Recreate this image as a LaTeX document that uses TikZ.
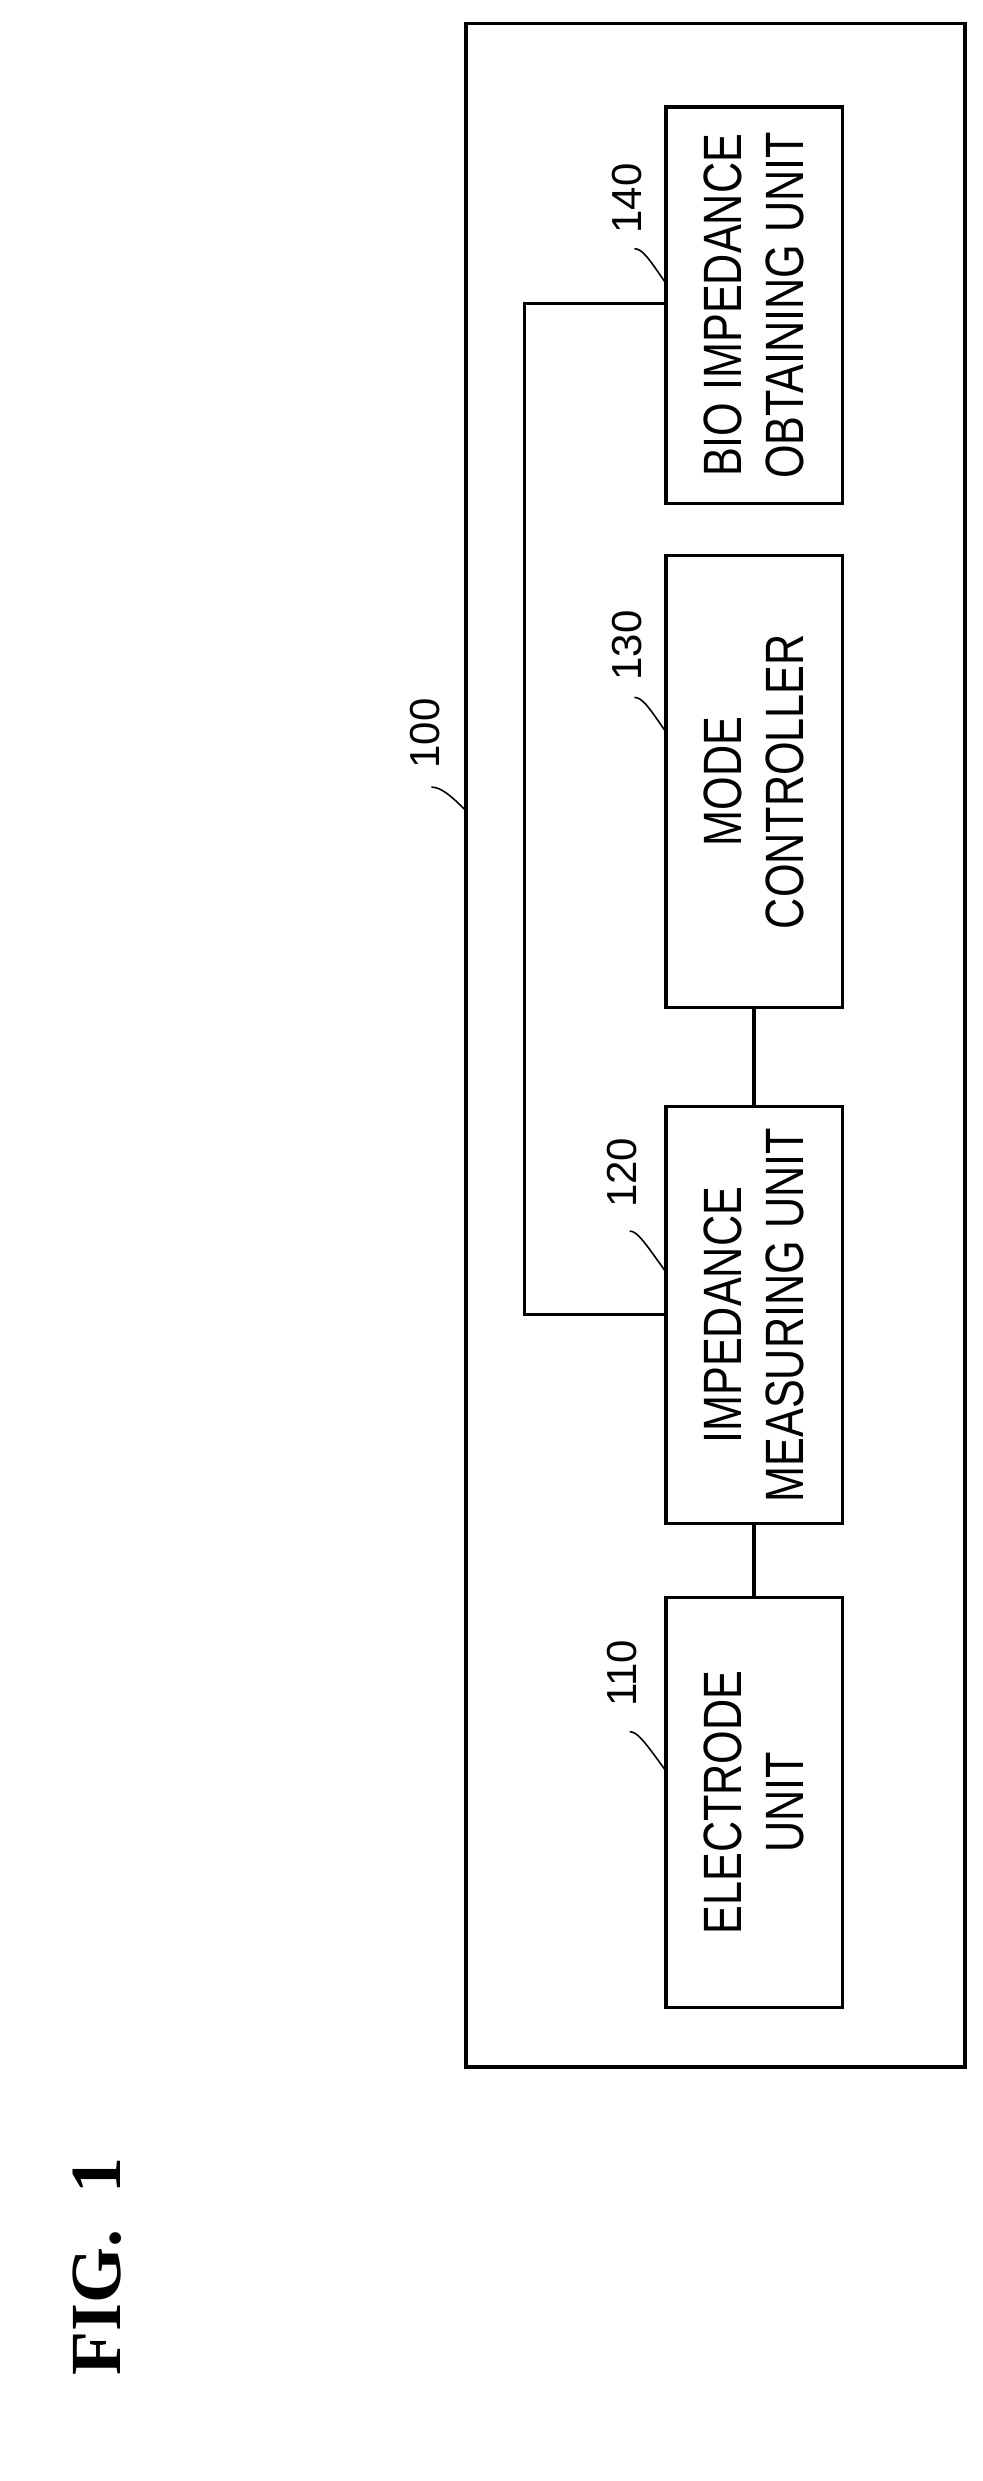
\documentclass[tikz,border=0pt]{standalone}
\usepackage{fontspec}
\setmainfont{Liberation Sans}
\newfontfamily\figfont{Liberation Serif}
\newcommand{\narrow}[1]{\scalebox{0.8}[1]{#1}}

\begin{document}
\begin{tikzpicture}[x=1.5753pt,y=-1.5753pt,line width=3.2pt]
    	\tikzset{unitbox/.style={draw,rotate=90,minimum width=#1,minimum height=112*1.5753pt,
    	  align=center,font=\fontsize{54}{62}\selectfont,inner sep=0pt}}
    	\tikzset{reflabel/.style={rotate=90,font=\fontsize{42}{50}\selectfont}}
    	\tikzset{leader/.style={line width=1.6pt}}

    	\useasboundingbox (0,0) rectangle (624,1576);
    	\draw (296,15) rectangle (613,1313);

    	\node[unitbox=252*1.5753pt] (bio) at (479,194) {\narrow{BIO IMPEDANCE}\\\narrow{OBTAINING UNIT}};
    	\node[unitbox=287*1.5753pt] (mode) at (479,496.5) {\narrow{MODE}\\\narrow{CONTROLLER}};
    	\node[unitbox=265*1.5753pt] (meas) at (479,835.5) {\narrow{IMPEDANCE}\\\narrow{MEASURING UNIT}};
    	\node[unitbox=260*1.5753pt] (elec) at (479,1145) {\narrow{ELECTRODE}\\\narrow{UNIT}};

    	\draw (mode.west) -- (meas.east);
    	\draw (meas.west) -- (elec.east);
    	\draw (bio.north |- 0,193) -- (333,193) -- (333,835) -- (meas.north |- 0,835);

    	\node[reflabel] (l140) at (398,126) {140};
    	\draw[leader] (403,158) .. controls (408,158) and (412,164) .. (423,180);
    	\node[reflabel] (l130) at (398,410) {130};
    	\draw[leader] (403,443) .. controls (408,443) and (412,449) .. (423,465);
    	\node[reflabel] (l120) at (395,745) {120};
    	\draw[leader] (400,782) .. controls (405,782) and (410,790) .. (423,808);
    	\node[reflabel] (l110) at (395,1063) {110};
    	\draw[leader] (400,1100) .. controls (405,1100) and (410,1107) .. (423,1125);
    	\node[reflabel] (l100) at (270,466) {100};
    	\draw[leader] (274,500) .. controls (280,500) and (286,505) .. (296,515);

    	\node[rotate=90,font=\figfont\bfseries\fontsize{72}{78}\selectfont] (fig) at (62,1440) {FIG.~~1};
\end{tikzpicture}
\end{document}
